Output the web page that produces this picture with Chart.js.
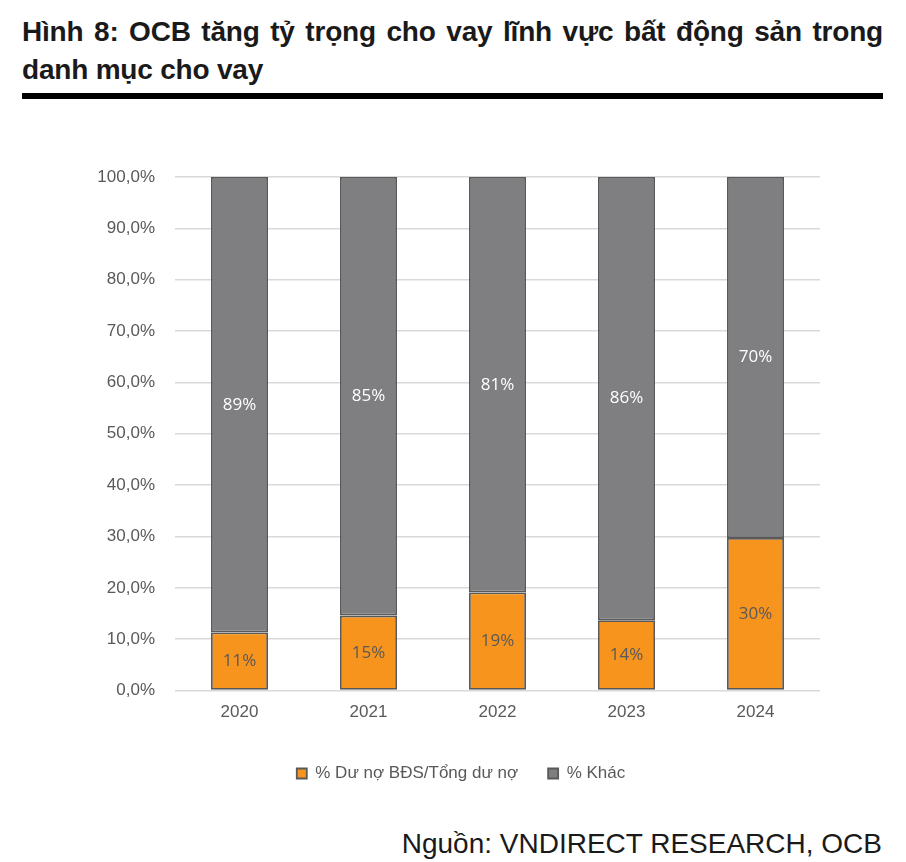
<!DOCTYPE html>
<html>
<head>
<meta charset="utf-8">
<script src="https://cdn.jsdelivr.net/npm/chart.js@4.4.1/dist/chart.umd.min.js"></script>
<style>
  body { margin: 0; background: #fff; width: 906px; height: 862px; position: relative; overflow: hidden; }
  .title { position: absolute; left: 22px; top: 13px; width: 861px; font: bold 28px "Liberation Sans", Arial, sans-serif; line-height: 38px; color: #1a1a1a; text-align: justify; text-align-last: left; letter-spacing: -0.2px; }
  .rule { position: absolute; left: 22px; top: 93px; width: 861px; height: 6px; background: #000; }
  .source { position: absolute; right: 24px; top: 828px; font: 28px "Liberation Sans", Arial, sans-serif; color: #1a1a1a; }
  #wrap { position: absolute; left: 0; top: 130px; width: 906px; height: 680px; }
</style>
</head>
<body>
<div class="title">Hình 8: OCB tăng tỷ trọng cho vay lĩnh vực bất động sản trong danh mục cho vay</div>
<div class="rule"></div>
<div id="wrap"><canvas id="chart"></canvas></div>
<div class="source">Nguồn: VNDIRECT RESEARCH, OCB</div>
<script>
// data
const years = ['2020', '2021', '2022', '2023', '2024'];
const realEstate = [11.3, 14.6, 19.1, 13.7, 29.7];
const other = [88.7, 85.4, 80.9, 86.3, 70.3];
const seriesNames = ['% Dư nợ BĐS/Tổng dư nợ', '% Khác'];

const axisFont = { family: '"Liberation Sans", Arial, sans-serif', size: 17 };

// draw the % labels in the middle of each bar piece
const barLabels = {
    id: 'barLabels',
    afterDatasetsDraw(chart) {
        const ctx = chart.ctx;
        ctx.save();
        ctx.font = '17px "Open Sans", sans-serif';
        ctx.textAlign = 'center';
        ctx.textBaseline = 'middle';
        chart.data.datasets.forEach((ds, i) => {
            chart.getDatasetMeta(i).data.forEach((bar, j) => {
                ctx.fillStyle = i === 0 ? '#595959' : '#ffffff';
                const mid = (bar.y + bar.base) / 2;
                ctx.fillText(Math.round(ds.data[j]) + '%', bar.x, mid);
            });
        });
        ctx.restore();
    }
};

new Chart(document.getElementById('chart'), {
    type: 'bar',
    data: {
        labels: years,
        datasets: [
            { label: seriesNames[0], data: realEstate, backgroundColor: '#f7941d', borderColor: '#595959', borderWidth: 1.8, borderSkipped: false, categoryPercentage: 1, barPercentage: 0.442 },
            { label: seriesNames[1], data: other, backgroundColor: '#7f7f82', borderColor: '#595959', borderWidth: 1.8, borderSkipped: false, categoryPercentage: 1, barPercentage: 0.442 }
        ]
    },
    options: {
        responsive: true,
        maintainAspectRatio: false,
        animation: false,
        layout: { padding: { left: 16, right: 0, top: 47, bottom: 18 } },
        plugins: {
            tooltip: { enabled: false },
            legend: {
                position: 'bottom',
                labels: {
                    boxWidth: 10, boxHeight: 10, padding: 30, color: '#595959',
                    font: axisFont
                }
            }
        },
        scales: {
            x: {
                stacked: true,
                grid: { display: false },
                border: { display: false },
                afterFit(scale) { scale.height += 8; },
                ticks: { color: '#595959', padding: 4, font: axisFont }
            },
            y: {
                stacked: true,
                min: 0, max: 100,
                afterFit(scale) { scale.width = 159; },
                grid: { color: '#d9d9d9', lineWidth: 1.5, drawTicks: false },
                border: { display: false },
                ticks: {
                    stepSize: 10, padding: 20, color: '#595959',
                    font: axisFont,
                    callback: v => v.toFixed(1).replace('.', ',') + '%'
                }
            },
            // empty right axis, only keeps space on the right of the plot
            yRight: {
                position: 'right',
                grid: { display: false },
                border: { display: false },
                ticks: { display: false },
                afterFit(scale) { scale.width = 86; }
            }
        }
    },
    plugins: [barLabels]
});
</script>
</body>
</html>
